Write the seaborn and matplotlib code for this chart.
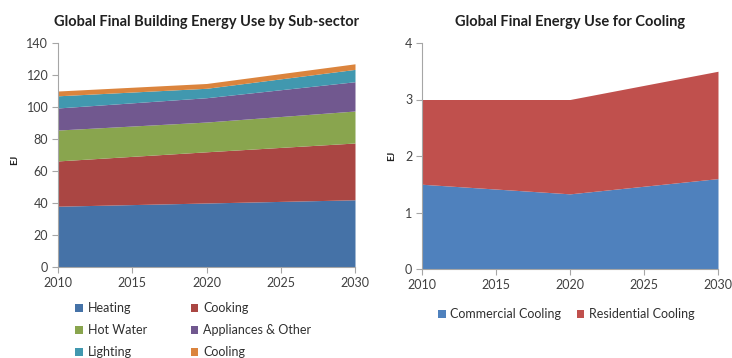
import matplotlib
matplotlib.use("Agg")
import matplotlib.pyplot as plt
import seaborn as sns
import pandas as pd

# Building energy by sub-sector (EJ)
years = [2010, 2020, 2030]
heating = [38.0, 40.0, 42.0]
cooking = [28.3, 32.0, 35.5]
hot_water = [19.3, 18.6, 20.0]
appliances = [13.8, 15.2, 18.3]
lighting = [7.6, 5.9, 7.7]
cooling = [3.0, 3.0, 3.5]

# Cooling split (EJ)
commercial_cooling = [1.50, 1.33, 1.60]
residential_cooling = [1.50, 1.67, 1.90]

left_labels = ["Heating", "Cooking", "Hot Water", "Appliances & Other", "Lighting", "Cooling"]
left_colors = ["#4572A7", "#AA4643", "#89A54E", "#71588F", "#4198AF", "#DB843D"]
right_labels = ["Commercial Cooling", "Residential Cooling"]
right_colors = ["#4F81BD", "#C0504D"]

sub = pd.DataFrame({"year": years, "Heating": heating, "Cooking": cooking,
                    "Hot Water": hot_water, "Appliances & Other": appliances,
                    "Lighting": lighting, "Cooling": cooling})
cool = pd.DataFrame({"year": years, "Commercial Cooling": commercial_cooling,
                     "Residential Cooling": residential_cooling})

sns.set_theme(style="white")
plt.rcParams["font.family"] = ["Lato", "DejaVu Sans"]

fig = plt.figure(figsize=(7.32, 3.58), dpi=100)
ax1 = fig.add_axes([58 / 732, 1 - 267 / 358, 297 / 732, 224 / 358])
ax2 = fig.add_axes([422 / 732, 1 - 269 / 358, 296 / 732, 226 / 358])

ax1.stackplot(sub["year"], *[sub[c] for c in left_labels],
              colors=left_colors, labels=left_labels, linewidth=0)
ax2.stackplot(cool["year"], *[cool[c] for c in right_labels],
              colors=right_colors, labels=right_labels, linewidth=0)

ax1.set_ylim(0, 140)
ax1.set_yticks(range(0, 141, 20))
ax2.set_ylim(0, 4)
ax2.set_yticks(range(0, 5))

grey = "#A6A6A6"
for ax in (ax1, ax2):
    ax.set_xlim(2010, 2030)
    ax.set_xticks([2010, 2015, 2020, 2025, 2030])
    for s in ("top", "right"):
        ax.spines[s].set_visible(False)
    for s in ("left", "bottom"):
        ax.spines[s].set_color(grey)
        ax.spines[s].set_linewidth(0.8)
    ax.tick_params(axis="both", which="both", direction="out", length=4,
                   width=0.8, color=grey, labelsize=9, labelcolor="#404040",
                   left=True, bottom=True, pad=3)
    ax.set_ylabel("EJ", fontsize=7.5, fontweight="bold", color="#202020")

ax1.yaxis.set_label_coords(-0.131, 0.48)
ax2.yaxis.set_label_coords(-0.088, 0.50)

ax1.set_title("Global Final Building Energy Use by Sub-sector",
              fontsize=10.5, fontweight="bold", color="#202020", pad=12)
ax2.set_title("Global Final Energy Use for Cooling",
              fontsize=10.5, fontweight="bold", color="#202020", pad=12)

h1, l1 = ax1.get_legend_handles_labels()
# order for two-column legend filled row by row
order = [0, 2, 4, 1, 3, 5]
fig.legend([h1[i] for i in order], [l1[i] for i in order],
           loc="upper left", bbox_to_anchor=(75 / 732, 1 - 302 / 358), ncol=2,
           frameon=False, fontsize=9, handlelength=0.6, handleheight=0.6,
           handletextpad=0.4, columnspacing=3.5, labelspacing=0.8,
           borderaxespad=0, borderpad=0, labelcolor="#303030")

h2, l2 = ax2.get_legend_handles_labels()
fig.legend(h2, l2, loc="upper left", bbox_to_anchor=(438 / 732, 1 - 308 / 358), ncol=2,
           frameon=False, fontsize=9, handlelength=0.6, handleheight=0.6,
           handletextpad=0.4, columnspacing=1.2,
           borderaxespad=0, borderpad=0, labelcolor="#303030")

fig.savefig("out.png", dpi=100, facecolor="white")
